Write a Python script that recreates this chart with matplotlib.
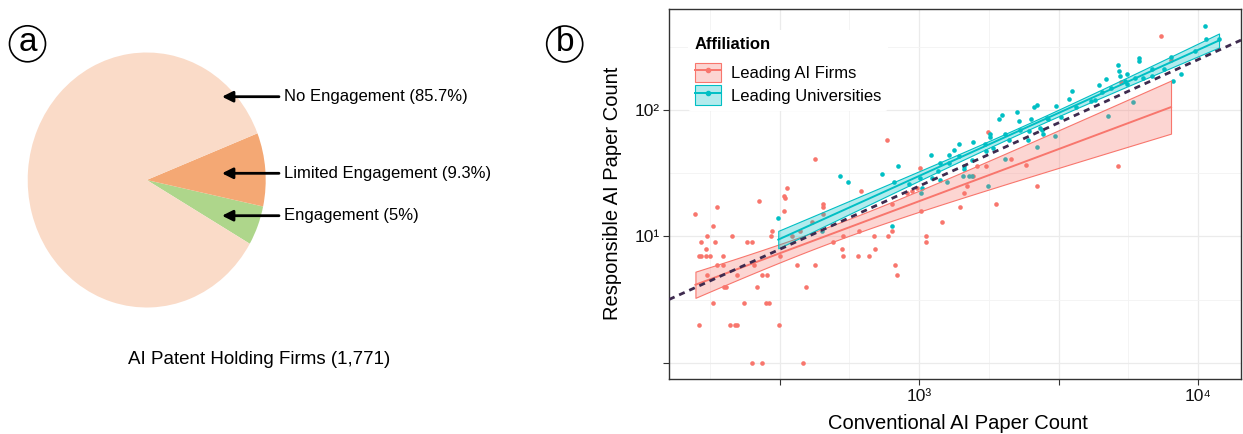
import numpy as np
import matplotlib.pyplot as plt
from matplotlib.patches import Patch, Ellipse
from matplotlib.lines import Line2D
from matplotlib.ticker import NullFormatter
from matplotlib.colors import to_rgba

plt.rcParams['font.family'] = ['Liberation Sans', 'DejaVu Sans']

W, H = 1243, 434

# ---- panel a data ----
pie_labels = ["No Engagement (85.7%)", "Limited Engagement (9.3%)", "Engagement (5%)"]
pie_shares = [85.7, 9.3, 5.0]
pie_colors = ["#FADBC8", "#F4A874", "#AED68B"]
pie_title = "AI Patent Holding Firms (1,771)"

# ---- panel b data (conventional vs responsible AI paper counts) ----
firms_x = [158, 188, 268, 336, 328, 331, 328, 182, 174, 166,
           186, 214, 242, 252, 295, 298, 173, 163, 165, 173,
           178, 198, 188, 198, 256, 318, 365, 423, 174, 223,
           274, 285, 200, 203, 262, 395, 182, 236, 283, 291,
           163, 211, 219, 223, 315, 253, 273, 384, 424, 351,
           375, 412, 454, 454, 454, 492, 528, 533, 536, 602,
           609, 620, 661, 687, 697, 774, 800, 820, 834, 800,
           766, 906, 944, 981, 1011, 1014, 1057, 1057, 1204, 1397,
           1450, 1483, 1610, 1565, 1734, 1772, 1893, 2136, 2418, 2641,
           5180, 7348, 8003, 5284]
firms_y = [15, 17, 19, 24, 21, 20, 16, 12, 10, 9,
           9, 10, 9, 9, 10, 11, 8, 7, 7, 7,
           7, 7, 6, 6, 6, 7, 6, 6, 5, 5,
           5, 5, 4, 4, 4, 4, 3, 3, 3, 3,
           2, 2, 2, 2, 2, 1, 1, 1, 41, 10,
           11, 13, 18, 17, 15, 9, 8, 7, 10, 7,
           11, 23, 7, 10, 8, 10, 11, 6, 5, 18,
           58, 22, 23, 24, 35, 16, 10, 9, 13, 17,
           22, 25, 36, 30, 36, 67, 18, 41, 37, 25,
           36, 385, 248, 167]

univ_x = [313, 448, 523, 556, 739, 844, 812, 802, 921, 1017,
          1028, 1101, 1110, 1194, 1192, 1284, 1335, 1388, 1561, 1263,
          1450, 1455, 1549, 1434, 1507, 1552, 1792, 1801, 1728, 1738,
          1846, 1984, 1935, 2039, 2097, 2029, 1772, 2250, 2288, 2514,
          2485, 2452, 2577, 2655, 2641, 2721, 2766, 2776, 2869, 2907,
          3090, 3080, 3228, 3448, 3526, 3654, 4125, 4263, 4417, 4528,
          4669, 4758, 4865, 5150, 5197, 5240, 5461, 5551, 5565, 5863,
          5961, 6160, 6170, 6336, 6839, 6850, 7551, 8003, 8137, 8670,
          9754, 10620, 10708, 11894, 1281, 1391, 2301, 1008, 1173]
univ_y = [14, 11, 30, 27, 31, 36, 27, 12, 26, 22,
          24, 44, 29, 38, 28, 44, 48, 54, 56, 27,
          36, 34, 40, 30, 30, 30, 64, 61, 54, 47,
          50, 92, 85, 65, 58, 41, 25, 97, 82, 85,
          68, 58, 105, 110, 51, 72, 69, 65, 87, 85,
          107, 62, 88, 123, 142, 105, 118, 120, 158, 139,
          176, 90, 149, 227, 202, 186, 170, 160, 194, 116,
          180, 259, 243, 180, 211, 186, 211, 261, 170, 193,
          294, 464, 362, 366, 38, 43, 69, 29, 33]

ref_ratio = 0.025  # dashed reference line y = ratio * x

red = "#F8766D"
teal = "#00BFC4"


def px(x, y):
    return x / W, 1 - y / H


def lm_band(x, y):
    lx, ly = np.log10(x), np.log10(y)
    b, a = np.polyfit(lx, ly, 1)
    n = len(lx)
    s = np.sqrt(np.sum((ly - (a + b * lx)) ** 2) / (n - 2))
    gx = np.linspace(lx.min(), lx.max(), 100)
    se = s * np.sqrt(1 / n + (gx - lx.mean()) ** 2 / np.sum((lx - lx.mean()) ** 2))
    fit = a + b * gx
    return 10 ** gx, 10 ** fit, 10 ** (fit - 1.99 * se), 10 ** (fit + 1.99 * se)


fig = plt.figure(figsize=(W / 100, H / 100), dpi=100)

# ---------------- panel a: pie ----------------
k = 1.2
cx, cy, rx, ry = 146.7, 180, 119, 127.5
ax1 = fig.add_axes([(cx - k * rx) / W, 1 - (cy + k * ry) / H, 2 * k * rx / W, 2 * k * ry / H])
ax1.pie([pie_shares[2], pie_shares[1], pie_shares[0]],
        colors=[pie_colors[2], pie_colors[1], pie_colors[0]],
        startangle=-30, counterclock=True)
ax1.set_aspect('auto')
ax1.set_xlim(-k, k)
ax1.set_ylim(-k, k)
ax1.axis('off')

for lab, yy in zip(pie_labels, [96.7, 173.3, 215.7]):
    fig.text(*px(284, yy), lab, fontsize=12, ha='left', va='center')
    ax1.annotate('', xy=px(222, yy), xytext=px(279, yy),
                 xycoords='figure fraction', textcoords='figure fraction',
                 arrowprops=dict(arrowstyle='-|>', lw=2, color='black', mutation_scale=16,
                                 shrinkA=0, shrinkB=0))

fig.text(*px(259, 360), pie_title, fontsize=13.5, ha='center', va='center')

# ---------------- panel b: scatter ----------------
ax2 = fig.add_axes([669 / W, 1 - 379 / H, (1241 - 669) / W, (379 - 9) / H])
ax2.set_xscale('log')
ax2.set_yscale('log')
ax2.set_xlim(10 ** 2.1039, 10 ** 4.1541)
ax2.set_ylim(10 ** -0.1265, 10 ** 2.798)

ax2.scatter(firms_x, firms_y, s=11, color=red, linewidths=0, zorder=2)
ax2.scatter(univ_x, univ_y, s=11, color=teal, linewidths=0, zorder=2)

for xs, ys, col in [(firms_x, firms_y, red), (univ_x, univ_y, teal)]:
    gx, fit, lo, hi = lm_band(np.array(xs), np.array(ys))
    ax2.fill_between(gx, lo, hi, facecolor=to_rgba(col, 0.3), edgecolor=col, lw=0.8, zorder=3)
    ax2.plot(gx, fit, color=col, lw=1.4, zorder=4)

xl = np.array(ax2.get_xlim())
ax2.plot(xl, xl * ref_ratio, color='#3E2B4F', lw=2, ls=(0, (2.2, 1.8)), zorder=5)

ax2.set_xticks([10 ** 2.5, 1e3, 10 ** 3.5, 1e4])
ax2.set_xticklabels(['', '10³', '', '10⁴'])
ax2.set_xticks([10 ** 2.25, 10 ** 2.75, 10 ** 3.25, 10 ** 3.75], minor=True)
ax2.set_yticks([1, 10, 100])
ax2.set_yticklabels(['', '10¹', '10²'])
ax2.set_yticks([10 ** 0.5, 10 ** 1.5, 10 ** 2.5], minor=True)
ax2.xaxis.set_minor_formatter(NullFormatter())
ax2.yaxis.set_minor_formatter(NullFormatter())
ax2.tick_params(which='major', length=4, color='#333333', labelsize=12.5, labelcolor='#111111', pad=3)
ax2.tick_params(which='minor', length=0)
ax2.grid(True, which='major', color='#EBEBEB', lw=0.9)
ax2.grid(True, which='minor', color='#F3F3F3', lw=0.6)
ax2.set_axisbelow(True)
for sp in ax2.spines.values():
    sp.set_color('#333333')
    sp.set_linewidth(1.0)

handles = [(Patch(facecolor=to_rgba(red, 0.3), edgecolor=red, lw=0.8),
            Line2D([], [], color=red, lw=1.4, marker='o', ms=3)),
           (Patch(facecolor=to_rgba(teal, 0.3), edgecolor=teal, lw=0.8),
            Line2D([], [], color=teal, lw=1.4, marker='o', ms=3))]
leg = ax2.legend(handles, ['Leading AI Firms', 'Leading Universities'],
                 title='Affiliation', loc='upper left', bbox_to_anchor=(0.033, 0.943),
                 borderaxespad=0, fontsize=12, title_fontproperties={'weight': 'bold', 'size': 12},
                 frameon=True, facecolor='white', edgecolor='none', framealpha=1,
                 handlelength=1.6, handleheight=1.4, handletextpad=0.6, labelspacing=0.2,
                 alignment='left', borderpad=0.4)
leg._legend_box.sep = 8

fig.text(*px(612, 193.5), 'Responsible AI Paper Count', rotation=90, fontsize=14.5,
         ha='center', va='center')
fig.text(*px(958, 414), 'Conventional AI Paper Count', fontsize=14.5, ha='center', va='top')

# circled panel letters
for let, (ccx, ccy) in [('a', (27.5, 43.8)), ('b', (564.7, 44))]:
    fig.patches.append(Ellipse(px(ccx, ccy), 36 / W, 36 / H, transform=fig.transFigure,
                               facecolor='none', edgecolor='black', lw=1.2))
    fig.text(*px(ccx, ccy - 1.5), let, fontsize=24, ha='center', va='center')

fig.savefig('out.png', dpi=100)
